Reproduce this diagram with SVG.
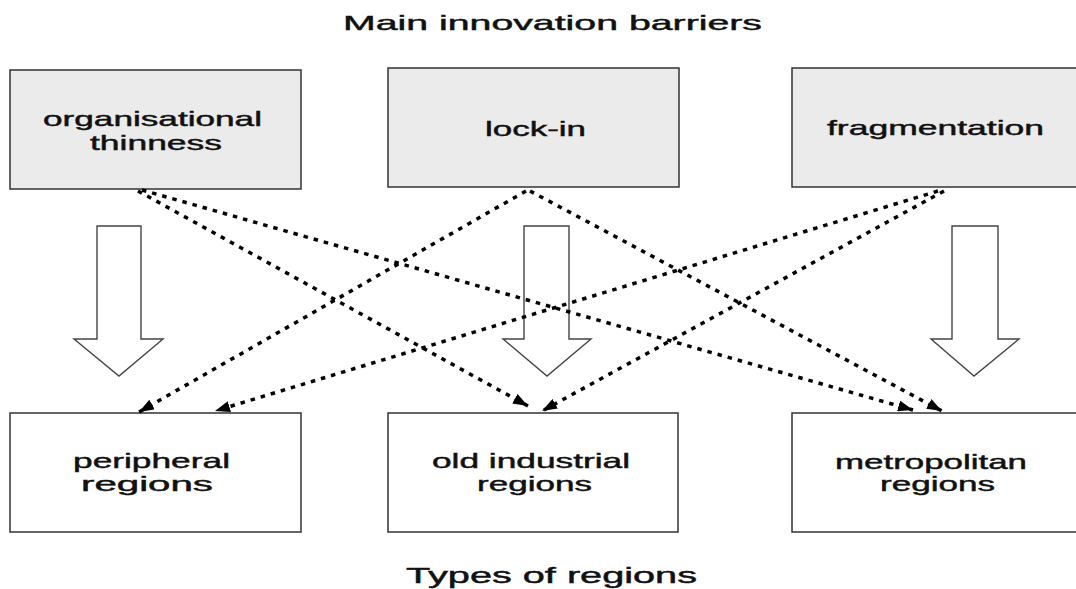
<svg xmlns="http://www.w3.org/2000/svg" width="1076" height="589" viewBox="0 0 1076 589">
<style>
.t{font-family:"Liberation Sans",Arial,sans-serif;fill:#111;stroke:#111;stroke-width:0.45;}
.top{fill:#ebebeb;stroke:#333;stroke-width:1.5;}
.bot{fill:#fff;stroke:#333;stroke-width:1.5;}
.big{fill:#fff;stroke:#444;stroke-width:1.4;}
.dot{stroke:#000;stroke-width:3.5;stroke-dasharray:4.5 6;fill:none;marker-end:url(#ah);}
</style>
<defs>
<marker id="ah" markerUnits="userSpaceOnUse" markerWidth="15" markerHeight="11" refX="15" refY="5.5" orient="auto">
<path d="M0,0 L15,5.5 L0,11 z" fill="#000"/>
</marker>
</defs>
<rect width="1076" height="589" fill="#fff"/>
<text class="t" x="343" y="30" font-size="21" textLength="419" lengthAdjust="spacingAndGlyphs">Main innovation barriers</text>
<text class="t" x="406" y="583" font-size="22" textLength="291" lengthAdjust="spacingAndGlyphs">Types of regions</text>

<g id="organisational-thinness">
<rect class="top" x="10" y="70" width="291" height="119"/>
<text class="t" x="43" y="126" font-size="21" textLength="219" lengthAdjust="spacingAndGlyphs">organisational</text>
<text class="t" x="90" y="150" font-size="21" textLength="132" lengthAdjust="spacingAndGlyphs">thinness</text>
</g>
<g id="lock-in">
<rect class="top" x="388" y="68" width="291" height="119"/>
<text class="t" x="485" y="136" font-size="21" textLength="101" lengthAdjust="spacingAndGlyphs">lock-in</text>
</g>
<g id="fragmentation">
<rect class="top" x="792" y="68" width="290" height="119"/>
<text class="t" x="827" y="135" font-size="21" textLength="217" lengthAdjust="spacingAndGlyphs">fragmentation</text>
</g>

<g id="peripheral-regions">
<rect class="bot" x="10" y="413" width="291" height="119"/>
<text class="t" x="73" y="468" font-size="21" textLength="157" lengthAdjust="spacingAndGlyphs">peripheral</text>
<text class="t" x="81" y="491" font-size="21" textLength="132" lengthAdjust="spacingAndGlyphs">regions</text>
</g>
<g id="old-industrial-regions">
<rect class="bot" x="388" y="413" width="290" height="119"/>
<text class="t" x="432" y="468" font-size="21" textLength="198" lengthAdjust="spacingAndGlyphs">old industrial</text>
<text class="t" x="477" y="491" font-size="21" textLength="115" lengthAdjust="spacingAndGlyphs">regions</text>
</g>
<g id="metropolitan-regions">
<rect class="bot" x="792" y="413" width="290" height="119"/>
<text class="t" x="835" y="469" font-size="21" textLength="192" lengthAdjust="spacingAndGlyphs">metropolitan</text>
<text class="t" x="880" y="491" font-size="21" textLength="115" lengthAdjust="spacingAndGlyphs">regions</text>
</g>

<g id="block-arrows">
<polygon class="big" points="97,226 141,226 141,339 163,339 119,376 74,339 97,339"/>
<polygon class="big" points="524,226 569,226 569,339 591,339 547,376 503,339 524,339"/>
<polygon class="big" points="952,226 998,226 998,339 1019,339 974,376 931,339 952,339"/>
</g>

<g id="connectors">
<line class="dot" x1="138" y1="191" x2="528" y2="406"/>
<line class="dot" x1="142" y1="190" x2="913" y2="410"/>
<line class="dot" x1="526" y1="191" x2="139" y2="412"/>
<line class="dot" x1="530" y1="191" x2="942" y2="411"/>
<line class="dot" x1="938" y1="191" x2="215" y2="411"/>
<line class="dot" x1="944" y1="191" x2="542" y2="411"/>
</g>
</svg>
